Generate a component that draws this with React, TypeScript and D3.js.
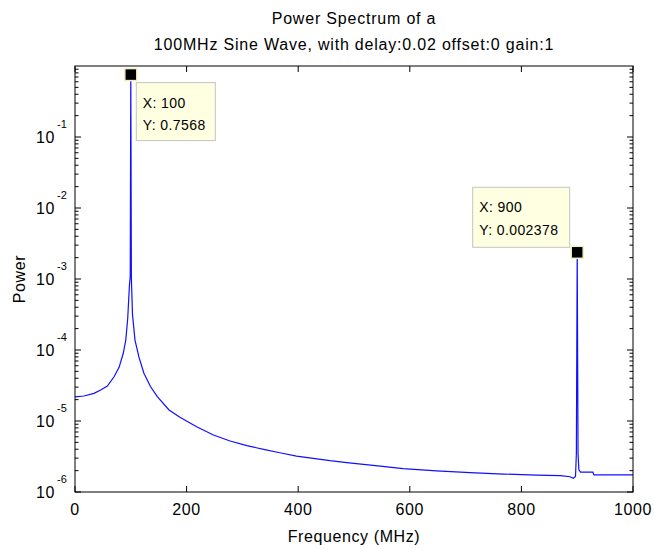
import React from 'react';
import * as d3 from 'd3';

// Data
const FREQ_MHZ = [0, 16, 34, 46, 58, 70, 79, 86.5, 91, 94.5, 97.5, 99, 100, 101, 103, 107.5, 114.5, 123.5, 135.5, 147.5, 168.5, 188, 218, 248, 278, 308, 338, 367, 397, 427, 457, 487, 517, 547, 588, 648, 708, 768, 827, 870, 887, 893, 897, 898.5, 900, 901.5, 903, 906, 928, 930, 1000];
const POWER = [2.18e-5, 2.25e-5, 2.45e-5, 2.73e-5, 3.11e-5, 4.2e-5, 5.7e-5, 9.0e-5, 1.38e-4, 2.8e-4, 8.0e-4, 1.08e-3, 0.7568, 1.05e-3, 3.2e-4, 1.38e-4, 8.0e-5, 4.7e-5, 3.04e-5, 2.2e-5, 1.43e-5, 1.13e-5, 8.3e-6, 6.35e-6, 5.23e-6, 4.49e-6, 3.99e-6, 3.57e-6, 3.21e-6, 2.98e-6, 2.76e-6, 2.59e-6, 2.45e-6, 2.32e-6, 2.13e-6, 1.98e-6, 1.87e-6, 1.79e-6, 1.73e-6, 1.7e-6, 1.64e-6, 1.56e-6, 1.65e-6, 3.5e-6, 0.002378, 3.5e-6, 2.05e-6, 1.9e-6, 1.9e-6, 1.74e-6, 1.74e-6];

const X_TICKS = [0, 200, 400, 600, 800, 1000];
const Y_EXPONENTS = [-6, -5, -4, -3, -2, -1];

const TIP_X = [100, 900];
const TIP_Y = [0.7568, 0.002378];
const TIP_X_LABELS = ['X: 100', 'X: 900'];
const TIP_Y_LABELS = ['Y: 0.7568', 'Y: 0.002378'];

const TITLE_LINES = ['Power Spectrum of a', '100MHz Sine Wave, with delay:0.02 offset:0 gain:1'];
const X_LABEL = 'Frequency (MHz)';
const Y_LABEL = 'Power';

const W = 654;
const H = 549;
const M = { left: 75, right: 21, top: 66, bottom: 57 };
const FONT = '"Liberation Sans", Arial, Helvetica, sans-serif';

export default function App() {
  const x = d3.scaleLinear().domain([0, 1000]).range([M.left, W - M.right]);
  const y = d3.scaleLog().domain([1e-6, 1]).range([H - M.bottom, M.top]);
  const x0 = M.left, x1 = W - M.right, y0 = H - M.bottom, y1 = M.top;

  const line = d3
    .line<number>()
    .x((_, i) => x(FREQ_MHZ[i]))
    .y((d) => y(d));
  const path = line(POWER) || '';

  const minor: number[] = [];
  for (const e of Y_EXPONENTS) {
    for (let j = 2; j <= 9; j++) minor.push(j * Math.pow(10, e));
  }

  const majorLen = 6;
  const minorLen = 3.5;

  // datatip layout: [dx, dy, width, height] relative to marker
  const tipBoxes = [
    { dx: 5.5, dy: 8, w: 79, h: 58 },
    { dx: -104.5, dy: -65, w: 97, h: 60 },
  ];

  return (
    <svg width={W} height={H} style={{ position: 'absolute', left: 0, top: 0, background: '#fff' }} fontFamily={FONT}>
      <rect x={0} y={0} width={W} height={H} fill="#fff" />
      {/* title */}
      {TITLE_LINES.map((t, i) => (
        <text key={i} x={(x0 + x1) / 2} y={i === 0 ? 24 : 50} textAnchor="middle" fontSize={16} letterSpacing={0.8} fill="#000">
          {t}
        </text>
      ))}
      {/* plot box */}
      <rect x={x0} y={y1} width={x1 - x0} height={y0 - y1} fill="#fff" stroke="none" />
      <path d={path} fill="none" stroke="#1010ff" strokeWidth={1.2} strokeLinejoin="miter" />
      {/* ticks */}
      <g stroke="#000" strokeWidth={1}>
        {X_TICKS.map((t) => (
          <g key={'xt' + t}>
            <line x1={x(t)} x2={x(t)} y1={y0} y2={y0 - majorLen} />
            <line x1={x(t)} x2={x(t)} y1={y1} y2={y1 + majorLen} />
          </g>
        ))}
        {Y_EXPONENTS.map((e) => (
          <g key={'yt' + e}>
            <line x1={x0} x2={x0 + majorLen} y1={y(Math.pow(10, e))} y2={y(Math.pow(10, e))} />
            <line x1={x1} x2={x1 - majorLen} y1={y(Math.pow(10, e))} y2={y(Math.pow(10, e))} />
          </g>
        ))}
        {minor.map((v, i) => (
          <g key={'mn' + i}>
            <line x1={x0} x2={x0 + minorLen} y1={y(v)} y2={y(v)} />
            <line x1={x1} x2={x1 - minorLen} y1={y(v)} y2={y(v)} />
          </g>
        ))}
      </g>
      <rect x={x0} y={y1} width={x1 - x0} height={y0 - y1} fill="none" stroke="#000" strokeWidth={1} />
      {/* x tick labels */}
      {X_TICKS.map((t) => (
        <text key={'xl' + t} x={x(t)} y={515} textAnchor="middle" fontSize={16} letterSpacing={0.6} fill="#000">
          {t}
        </text>
      ))}
      {/* y tick labels */}
      {Y_EXPONENTS.map((e) => {
        const ty = y(Math.pow(10, e));
        return (
          <g key={'yl' + e}>
            <text x={55} y={ty + 6} textAnchor="end" fontSize={16} letterSpacing={0.6} fill="#000">
              10
            </text>
            <text x={57} y={ty - 9} fontSize={11} fill="#000">
              {'-' + Math.abs(e)}
            </text>
          </g>
        );
      })}
      {/* axis labels */}
      <text x={(x0 + x1) / 2} y={542} textAnchor="middle" fontSize={16} letterSpacing={0.6} fill="#000">
        {X_LABEL}
      </text>
      <text transform={`translate(25,${(y0 + y1) / 2}) rotate(-90)`} textAnchor="middle" fontSize={16} letterSpacing={0.6} fill="#000">
        {Y_LABEL}
      </text>
      {/* datatips */}
      {TIP_X.map((tx, i) => {
        const cx = x(tx);
        const cy = y(TIP_Y[i]);
        const b = tipBoxes[i];
        const bx = cx + b.dx;
        const by = cy + b.dy;
        return (
          <g key={'tip' + i}>
            <rect x={bx} y={by} width={b.w} height={b.h} fill="#ffffe1" stroke="#c4c4c4" strokeWidth={1} />
            <text x={bx + 6.5} y={by + 25} fontSize={14} letterSpacing={0.4} fill="#000">
              {TIP_X_LABELS[i]}
            </text>
            <text x={bx + 6.5} y={by + 47.5} fontSize={14} letterSpacing={0.4} fill="#000">
              {TIP_Y_LABELS[i]}
            </text>
            <rect x={cx - 6} y={cy - 6} width={12} height={12} fill="#000" stroke="#f3efc2" strokeWidth={1.5} />
          </g>
        );
      })}
    </svg>
  );
}
